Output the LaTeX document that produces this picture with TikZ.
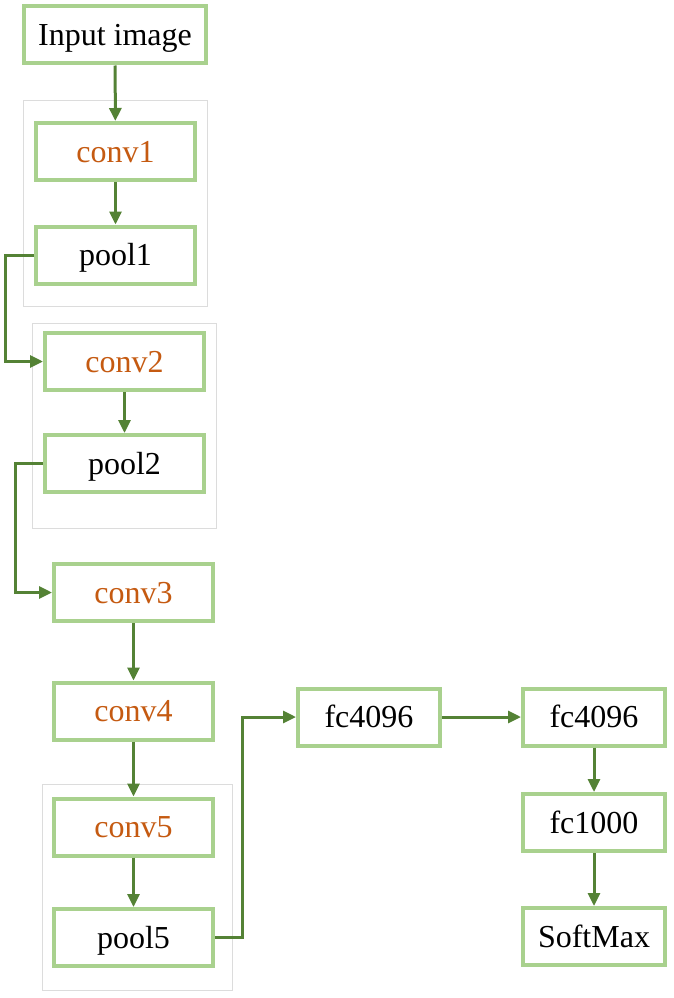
\documentclass[tikz,border=0pt]{standalone}
\usepackage{fontspec}
\setmainfont{Liberation Serif}
\usetikzlibrary{arrows.meta}
\definecolor{boxgreen}{HTML}{A9D18E}
\definecolor{arrowgreen}{HTML}{548235}
\definecolor{convorange}{HTML}{C55A11}
\definecolor{groupgray}{HTML}{DCDCDC}
\tikzset{
  layer/.style={draw=boxgreen, line width=4pt, fill=white, minimum width=159pt, minimum height=57pt, inner sep=0pt,
    text height=24pt, text depth=3pt,
    font=\fontsize{32}{38}\selectfont, text=black},
  fcbox/.style={layer, minimum width=142pt},
  convtext/.style={text=convorange},
  group/.style={draw=groupgray, line width=0.8pt},
  conn/.style={draw=arrowgreen, line width=3pt, -{Triangle[length=13pt,width=12pt]}}
}
\begin{document}
\begin{tikzpicture}[x=1pt,y=-1pt]
\useasboundingbox (0,0) rectangle (674,998);
\draw[group] (23,100) rectangle (207,306);
\draw[group] (32,323) rectangle (216,528);
\draw[group] (42,784) rectangle (232,990);

\node[layer, minimum width=182pt] (input) at (115,35) {Input image};
\node[layer, convtext] (conv1) at (115.5,151.5) {conv1};
\node[layer] (pool1) at (115.5,255) {pool1};
\node[layer, convtext] (conv2) at (124.5,361.5) {conv2};
\node[layer] (pool2) at (124.5,463.5) {pool2};
\node[layer, convtext] (conv3) at (133.5,592.5) {conv3};
\node[layer, convtext] (conv4) at (133.5,711) {conv4};
\node[layer, convtext] (conv5) at (133.5,827) {conv5};
\node[layer] (pool5) at (133.5,937.5) {pool5};
\node[fcbox] (fca) at (369,717) {fc4096};
\node[fcbox] (fcb) at (594,717) {fc4096};
\node[fcbox] (fcc) at (594,822.5) {fc1000};
\node[fcbox] (soft) at (594,936.5) {SoftMax};

\draw[conn] (input) -- (conv1);
\draw[conn] (conv1) -- (pool1);
\draw[conn] (pool1.west) -- ++(-29,0) |- (conv2.west);
\draw[conn] (conv2) -- (pool2);
\draw[conn] (pool2.west) -- ++(-28,0) |- (conv3.west);
\draw[conn] (conv3) -- (conv4);
\draw[conn] (conv4) -- (conv5);
\draw[conn] (conv5) -- (pool5);
\draw[conn] (pool5.east) -- ++(27,0) |- (fca.west);
\draw[conn] (fca) -- (fcb);
\draw[conn] (fcb) -- (fcc);
\draw[conn] (fcc) -- (soft);
\end{tikzpicture}
\end{document}
